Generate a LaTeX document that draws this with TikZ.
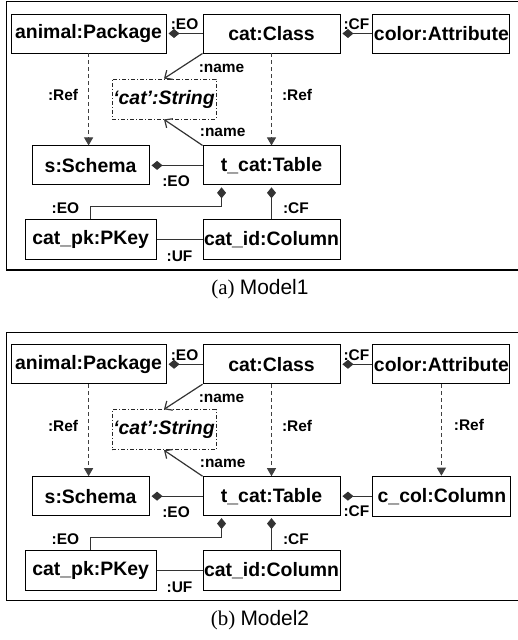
\documentclass[tikz,border=0pt]{standalone}
\usepackage{fontspec}
\setmainfont{Liberation Serif}
\setsansfont{Liberation Sans}
\usetikzlibrary{positioning}
\usetikzlibrary{arrows.meta}
\usetikzlibrary{calc}

\begin{document}
\begin{tikzpicture}[x=1bp, y=1bp,
    obj/.style={draw, line width=0.9bp, minimum height=39bp, inner sep=0pt,
      font=\sffamily\bfseries\fontsize{19.5}{22}\selectfont},
    strbox/.style={obj, minimum height=40bp, draw=black!85,
      dash pattern=on 4bp off 2bp on 1bp off 2bp,
      font=\sffamily\bfseries\itshape\fontsize{19.5}{22}\selectfont},
    lbl/.style={inner sep=1bp, font=\sffamily\bfseries\fontsize{15.5}{17}\selectfont},
    comp/.style={draw=black!80, line width=1bp, shorten >=2bp,
      -{Diamond[length=11bp, width=9bp]}},
    ref/.style={draw=black!75, line width=1bp, dash pattern=on 4bp off 3bp,
      -{Triangle[length=8bp, width=9bp]}},
    nav/.style={draw=black!80, line width=1.2bp,
      -{Straight Barb[length=6bp, width=11bp]}},
    assoc/.style={draw=black!80, line width=1bp},
    frame/.style={draw, line width=1.2bp},
    caption/.style={inner sep=0pt, font=\fontsize{21}{24}\selectfont}]

  \useasboundingbox (0,0) rectangle (518,-640);

  % one panel per model, the second one gets the extra column
  \foreach \m/\dy/\n in {a/0/1, b/-332/2} {
    \begin{scope}[yshift=\dy, name prefix=\m-]
      \draw[frame] (6.5,-1.5) rectangle (530,-270);

      % nodes %
      \node[obj, minimum width=137bp] (cls) at (271.5,-33.5) {cat:Class};
      \node[obj, minimum width=155bp, left=36bp of cls] (pkg) {animal:Package};
      \node[obj, minimum width=137bp, right=32bp of cls] (attr) {color:Attribute};
      \node[strbox, minimum width=104bp] (str) at (164,-99) {‘cat’:String};
      \node[obj, minimum width=137bp, below=92bp of cls] (tbl) {t\_cat:Table};
      \node[obj, minimum width=117bp, left=53bp of tbl] (sch) {s:Schema};
      \node[obj, minimum width=137bp, minimum height=40bp, below=34bp of tbl] (col) {cat\_id:Column};
      \node[obj, minimum width=131bp, minimum height=40bp, left=46bp of col] (pk) {cat\_pk:PKey};
      \node[caption] (cap) at (260,-289) {(\m) \textsf{Model\n}};

      % edges %
      \draw[comp] (cls) -- node[lbl, above=2bp] {:EO} (pkg);
      \draw[comp] (attr) -- node[lbl, above=2bp] {:CF} (cls);
      \draw[ref] (pkg.south) -- node[lbl, left=9bp, pos=0.45] {:Ref} (pkg.south |- sch.north);
      \draw[ref] (cls.south) -- node[lbl, right=9bp, pos=0.45] {:Ref} (tbl.north);
      \draw[nav] (cls.south west) -- node[lbl, pos=0.58, anchor=west, xshift=17bp] {:name} (str.north);
      \draw[nav] (tbl.north west) -- node[lbl, pos=0.5, anchor=west, xshift=15bp] {:name} (str.south);
      \draw[comp] (tbl) -- node[lbl, below=9bp] {:EO} (sch);
      \draw[comp] (pk.north) -- ++(0,13) node[lbl, left=10bp, yshift=-2bp] {:EO}
        -| ([xshift=19bp]tbl.south west);
      \draw[comp] (col) -- node[lbl, right=10bp, pos=0.32] {:CF} (tbl);
      \draw[assoc] (pk) -- node[lbl, below=10bp] {:UF} (col);

      \if b\m
        \node[obj, minimum width=138bp, minimum height=40bp, right=32bp of tbl] (ccol) {c\_col:Column};
        \draw[comp] (ccol) -- node[lbl, below=8bp] {:CF} (tbl);
        \draw[ref] (attr.south) -- node[lbl, right=11bp, pos=0.45] {:Ref} (attr.south |- ccol.north);
      \fi
    \end{scope}
  }
\end{tikzpicture}
\end{document}
